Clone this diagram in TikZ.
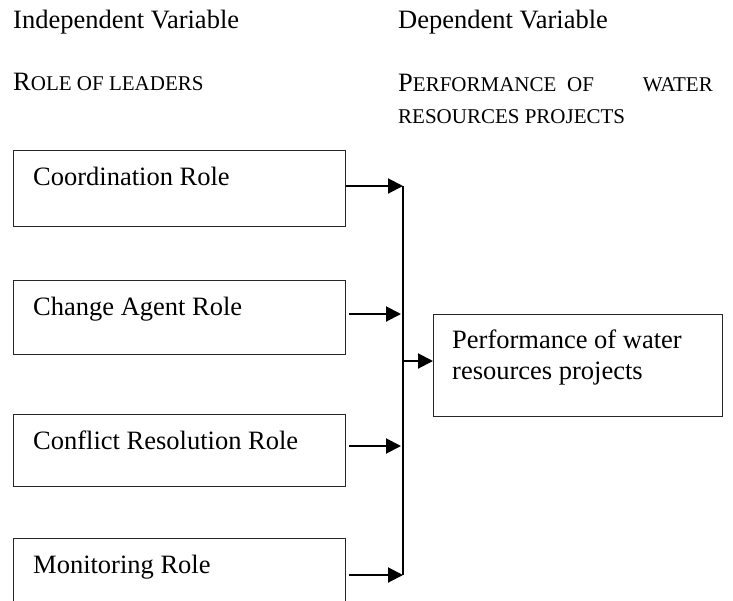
\documentclass[tikz,border=0pt]{standalone}
\usepackage{fontspec}
\setmainfont{Liberation Serif}
\usetikzlibrary{arrows.meta}
\begin{document}
\begin{tikzpicture}[x=1pt,y=-1pt,
  txt/.style={inner sep=0pt, anchor=base west, font=\fontsize{26.5}{31}\selectfont},
  sc/.style={inner sep=0pt, font=\fontsize{21}{25}\selectfont},
  rolebox/.style={draw=black!85, line width=1pt, anchor=north west, minimum width=332pt, inner sep=0pt},
  arr/.style={line width=2pt, -{Triangle[length=15pt,width=15pt]}},
  bus/.style={line width=2pt}]
\useasboundingbox (0,0) rectangle (733,600);
\clip (0,0) rectangle (733,600);
% headers
\node[txt] (h1) at (13,28) {Independent Variable};
\node[txt] (h2) at (398,28) {Dependent Variable};
\node[sc, anchor=base west] (h3) at (13,90) {{\fontsize{26.5}{31}\selectfont R}OLE OF LEADERS};
\node[sc, anchor=base west] (h4a) at (398,91) {{\fontsize{26.5}{31}\selectfont P}ERFORMANCE};
\node[sc, anchor=base west] (h4b) at (567,91) {OF};
\node[sc, anchor=base east] (h4c) at (713,91) {WATER};
\node[sc, anchor=base west] (h5) at (398,123) {RESOURCES PROJECTS};
% boxes
\node[rolebox, minimum height=76pt] (b1) at (13,150) {};
\node[rolebox, minimum height=74pt] (b2) at (13,280) {};
\node[rolebox, minimum height=72pt] (b3) at (13,414) {};
\node[rolebox, minimum height=74pt] (b4) at (13,538) {};
\node[txt] (t1) at (33,185) {Coordination Role};
\node[txt] (t2) at (33,315) {Change Agent Role};
\node[txt] (t3) at (33,449) {Conflict Resolution Role};
\node[txt] (t4) at (33,573) {Monitoring Role};
\node[draw=black!85, line width=1pt, anchor=north west, minimum width=289pt, minimum height=102pt, inner sep=0pt] (out) at (433,314) {};
\node[txt] (o1) at (452,348) {Performance of water};
\node[txt] (o2) at (452,379) {resources projects};
% connectors
\coordinate (top) at (403,186);
\coordinate (bot) at (403,575);
\coordinate (y2) at (0,314);
\coordinate (y3) at (0,446);
\coordinate (y5) at (0,361);
\draw[bus] (top) -- (bot);
\draw[arr] (b1.east |- top) -- (top);
\draw[arr] ([xshift=3pt]b2.east |- y2) -- ([xshift=-2pt]top |- y2);
\draw[arr] ([xshift=3pt]b3.east |- y3) -- ([xshift=-2pt]top |- y3);
\draw[arr] ([xshift=3pt]b4.east |- bot) -- (bot);
\draw[arr] (top |- y5) -- (out.west |- y5);
\end{tikzpicture}
\end{document}
